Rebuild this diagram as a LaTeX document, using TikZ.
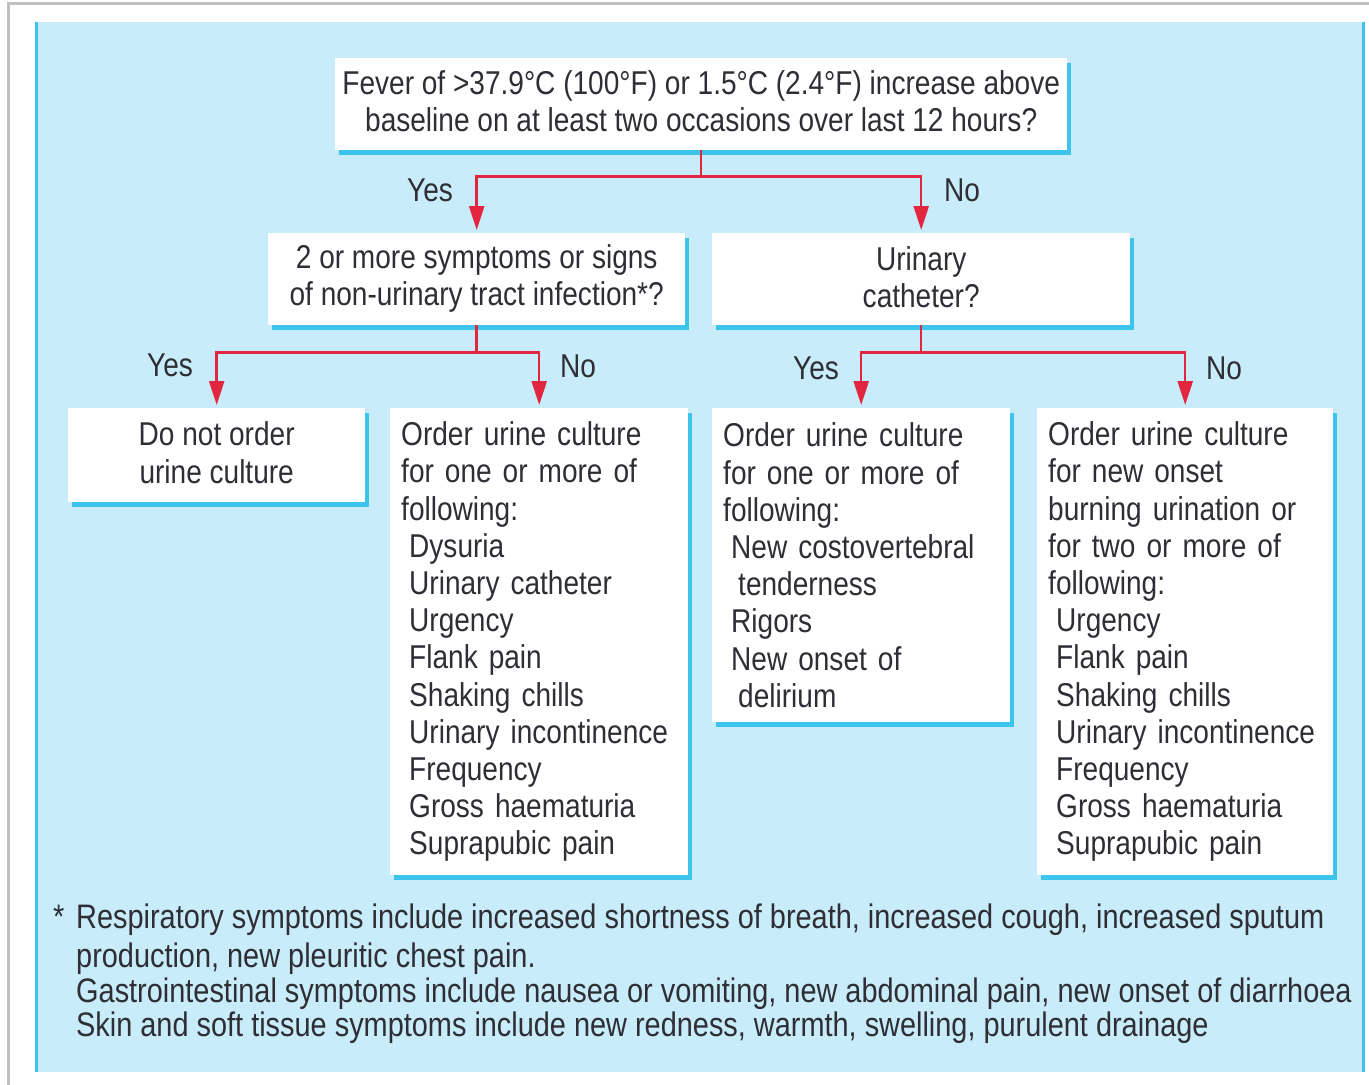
\documentclass[tikz,border=0pt]{standalone}
\usepackage{fontspec}
\setmainfont{Liberation Sans}[FakeStretch=0.85]
\usetikzlibrary{arrows.meta,shadows}
\definecolor{panelblue}{HTML}{C8ECFA}
\definecolor{shadowcyan}{HTML}{3CC4EC}
\definecolor{arrowred}{HTML}{E3263F}
\definecolor{txt}{HTML}{2E2E34}
\begin{document}
\begin{tikzpicture}[x=1pt,y=-1pt,
  every node/.style={text=txt, font=\fontsize{33}{37.2}\selectfont},
  box/.style={fill=white, inner sep=0pt, anchor=north west, align=center,
    drop shadow={shadow xshift=4pt, shadow yshift=-5pt, fill=shadowcyan, opacity=1}},
  listbox/.style={box, align=left, inner xsep=11pt},
  lbl/.style={inner sep=0pt},
  fn/.style={inner sep=0pt, anchor=base west, font=\fontsize{34}{37}\selectfont},
  flow/.style={draw=arrowred, line width=2.5pt, -{Triangle[length=24pt,width=15pt]}, shorten >=3pt}
]
\useasboundingbox (0,0) rectangle (1369,1085);
\fill[white] (0,0) rectangle (1369,1085);
\draw[black!25, line width=3pt] (8,1085) -- (8,3) -- (1369,3);
\fill[panelblue] (35,22) rectangle (1365,1072);
\fill[shadowcyan] (35,22) rectangle (38,1072);
\fill[shadowcyan] (1362,22) rectangle (1365,1072);

\node[box, minimum width=732, minimum height=92] (top) at (335,58)
  {Fever of >37.9°C (100°F) or 1.5°C (2.4°F) increase above\\baseline on at least two occasions over last 12 hours?\vspace*{6pt}};
\node[box, minimum width=417, minimum height=92] (b2) at (268,233)
  {2 or more symptoms or signs\\of non-urinary tract infection*?\vspace*{2pt}};
\node[box, minimum width=418, minimum height=92] (b3) at (712,233)
  {Urinary\\catheter?\vspace*{4pt}};
\node[box, minimum width=297, minimum height=94] (b4) at (68,408)
  {Do not order\\urine culture\vspace*{5pt}};
\node[listbox, text width=276, minimum height=467] (b5) at (390,408)
  {Order urine culture\\for one or more of\\following:\\
   \hspace*{8pt}Dysuria\\\hspace*{8pt}Urinary catheter\\\hspace*{8pt}Urgency\\
   \hspace*{8pt}Flank pain\\\hspace*{8pt}Shaking chills\\\hspace*{8pt}Urinary incontinence\\
   \hspace*{8pt}Frequency\\\hspace*{8pt}Gross haematuria\\\hspace*{8pt}Suprapubic pain};
\node[listbox, text width=276, minimum height=314] (b6) at (712,408)
  {Order urine culture\\for one or more of\\following:\\
   \hspace*{8pt}New costovertebral\\\hspace*{15pt}tenderness\\\hspace*{8pt}Rigors\\
   \hspace*{8pt}New onset of\\\hspace*{15pt}delirium};
\node[listbox, text width=274, minimum height=467] (b7) at (1037,408)
  {Order urine culture\\for new onset\\burning urination or\\for two or more of\\following:\\
   \hspace*{8pt}Urgency\\\hspace*{8pt}Flank pain\\\hspace*{8pt}Shaking chills\\
   \hspace*{8pt}Urinary incontinence\\\hspace*{8pt}Frequency\\\hspace*{8pt}Gross haematuria\\
   \hspace*{8pt}Suprapubic pain};

\draw[flow] (top.south) -- ++(0,26) -| (b2.north);
\draw[flow] (top.south) -- ++(0,26) -| (b3.north);
\draw[flow] (b2.south) -- ++(0,27) -| (b4.north);
\draw[flow] (b2.south) -- ++(0,27) -| (b5.north);
\draw[flow] (b3.south) -- ++(0,27) -| (b6.north);
\draw[flow] (b3.south) -- ++(0,27) -| (b7.north);

\node[lbl] (l1) at (430,190) {Yes};
\node[lbl] (l2) at (962,190) {No};
\node[lbl] (l3) at (170,365) {Yes};
\node[lbl] (l4) at (578,366) {No};
\node[lbl] (l5) at (816,368) {Yes};
\node[lbl] (l6) at (1224,368) {No};

\node[fn] (ast) at (53,928) {*};
\node[fn] (f1) at (76,928) {Respiratory symptoms include increased shortness of breath, increased cough, increased sputum};
\node[fn] (f2) at (76,967) {production, new pleuritic chest pain.};
\node[fn] (f3) at (76,1002) {Gastrointestinal symptoms include nausea or vomiting, new abdominal pain, new onset of diarrhoea};
\node[fn] (f4) at (76,1036) {Skin and soft tissue symptoms include new redness, warmth, swelling, purulent drainage};
\end{tikzpicture}
\end{document}
